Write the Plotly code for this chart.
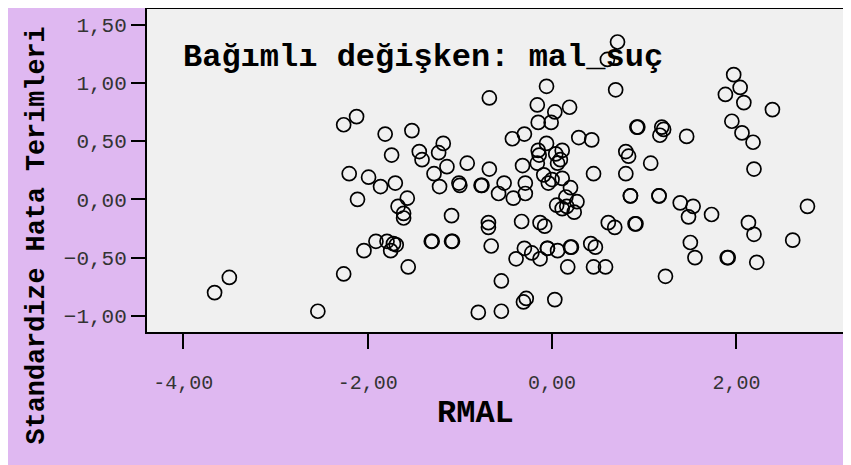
import plotly.graph_objects as go

# RMAL (x) and standardised residuals (y)
RMAL = [
    -3.66, -3.50, -2.54, -2.26, -2.26, -2.12, -2.20, -2.11, -2.04, -1.99,
    -1.91, -1.86, -1.81, -1.79, -1.75, -1.74, -1.72, -1.69, -1.70, -1.67,
    -1.57, -1.61, -1.61, -1.56, -1.52, -1.44, -1.41, -1.31, -1.30, -1.28,
    -1.23, -1.22, -1.18, -1.14, -1.09, -1.09, -1.08, -1.01, -1.00, -0.92,
    -0.80, -0.77, -0.76, -0.68, -0.68, -0.69, -0.69, -0.66, -0.58, -0.55,
    -0.55, -0.52, -0.43, -0.42, -0.39, -0.33, -0.32, -0.30, -0.30, -0.29,
    -0.29, -0.28, -0.31, -0.22, -0.16, -0.15, -0.15, -0.14, -0.16, -0.13,
    -0.13, -0.08, -0.09, -0.06, -0.06, -0.05, -0.05, -0.04, 0.00, -0.01,
    0.03, 0.03, 0.04, 0.11, 0.09, 0.06, 0.05, 0.06, 0.11, 0.11,
    0.15, 0.16, 0.20, 0.27, 0.24, 0.17, 0.20, 0.21, 0.19, 0.29,
    0.42, 0.47, 0.43, 0.45, 0.45, 0.58, 0.60, 0.61, 0.68, 0.69,
    0.71, 0.80, 0.83, 0.80, 0.85, 0.85, 0.90, 0.91, 0.92, 0.93,
    1.07, 1.16, 1.16, 1.19, 1.21, 1.17, 1.23, 1.39, 1.46, 1.53,
    1.48, 1.50, 1.55, 1.73, 1.90, 1.91, 1.88, 1.97, 2.04, 2.08,
    1.95, 2.06, 2.18, 2.19, 2.13, 2.19, 2.22, 2.39, 2.61, 2.77,
]
RESID = [
    -0.80, -0.67, -0.96, -0.64, 0.64, 0.71, 0.22, 0.00, -0.44, 0.19,
    -0.36, 0.11, 0.56, -0.36, -0.44, 0.38, -0.38, -0.39, 0.14, -0.06,
    0.01, -0.12, -0.16, -0.58, 0.59, 0.41, 0.34, -0.36, -0.36, 0.22,
    0.40, 0.11, 0.48, 0.28, -0.14, -0.36, -0.36, 0.14, 0.12, 0.31,
    -0.97, 0.12, 0.12, 0.87, 0.26, -0.20, -0.24, -0.40, 0.05, -0.70,
    -0.96, 0.14, 0.52, 0.01, -0.51, -0.19, 0.29, 0.56, -0.42, 0.14,
    0.05, -0.85, -0.88, -0.46, 0.81, 0.66, 0.42, 0.38, 0.31, -0.51,
    -0.20, -0.23, 0.21, 0.97, 0.48, -0.42, -0.42, 0.14, 0.17, 0.66,
    0.75, -0.86, 0.39, 0.42, 0.34, 0.31, -0.05, -0.44, 0.18, -0.08,
    0.02, -0.06, 0.10, -0.02, -0.11, -0.58, -0.41, -0.41, 0.79, 0.53,
    -0.38, -0.41, 0.51, 0.22, -0.58, -0.58, 1.20, -0.20, -0.24, 0.94,
    1.35, 0.41, 0.37, 0.22, 0.03, 0.03, -0.21, -0.21, 0.62, 0.62,
    0.31, 0.03, 0.03, 0.62, 0.60, 0.55, -0.66, -0.03, 0.54, -0.06,
    -0.15, -0.37, -0.50, -0.13, -0.50, -0.50, 0.90, 1.07, 0.96, 0.83,
    0.67, 0.57, 0.49, 0.26, -0.20, -0.30, -0.54, 0.77, -0.35, -0.06,
]

X_TICKS = [-4, -2, 0, 2]
X_LABELS = ["-4,00", "-2,00", "0,00", "2,00"]
Y_TICKS = [-1.0, -0.5, 0.0, 0.5, 1.0, 1.5]
Y_LABELS = ["\u22121,00", "\u22120,50", "0,00", "0,50", "1,00", "1,50"]

PURPLE = "#DFB8F1"
PANEL = "#F0F0F0"
MONO = "Liberation Mono, Courier New, monospace"

fig = go.Figure(
    go.Scatter(
        x=RMAL,
        y=RESID,
        mode="markers",
        marker=dict(
            symbol="circle-open",
            size=14,
            color="black",
            line=dict(color="black", width=1.7),
        ),
        showlegend=False,
    )
)

fig.update_layout(
    width=851,
    height=465,
    margin=dict(l=139, r=0, t=1, b=141),
    paper_bgcolor=PURPLE,
    plot_bgcolor=PANEL,
    font=dict(family=MONO, color="#222"),
    xaxis=dict(
        range=[-4.393, 3.329],
        tickvals=X_TICKS,
        ticktext=X_LABELS,
        ticks="outside",
        ticklen=15,
        tickwidth=2,
        tickcolor="black",
        ticklabelstandoff=16,
        tickfont=dict(size=20, family=MONO, color="#333"),
        showgrid=False,
        zeroline=False,
        showline=True,
        linewidth=2,
        linecolor="black",
        mirror=True,
        automargin=False,
    ),
    yaxis=dict(
        range=[-1.138, 1.633],
        tickvals=Y_TICKS,
        ticktext=Y_LABELS,
        ticks="outside",
        ticklen=14,
        tickwidth=2,
        tickcolor="black",
        tickfont=dict(size=21, family=MONO, color="#333"),
        showgrid=False,
        zeroline=False,
        showline=True,
        linewidth=2,
        linecolor="black",
        automargin=False,
    ),
    annotations=[
        dict(
            text="<b>Bağımlı değişken: mal_suç</b>",
            xref="paper", yref="paper",
            x=0.048, y=0.851,
            xanchor="left", yanchor="middle",
            showarrow=False,
            font=dict(size=32, family=MONO, color="black"),
        ),
        dict(
            text="<b>Standardize Hata Terimleri</b>",
            xref="paper", yref="paper",
            x=-0.1545, y=0.299,
            xanchor="center", yanchor="middle",
            textangle=-90,
            showarrow=False,
            font=dict(size=26.8, family=MONO, color="black"),
        ),
        dict(
            text="<b>RMAL</b>",
            xref="paper", yref="paper",
            x=0.4614, y=-0.251,
            xanchor="center", yanchor="middle",
            showarrow=False,
            font=dict(size=32, family=MONO, color="black"),
        ),
    ],
)

fig.write_html("out.html")
